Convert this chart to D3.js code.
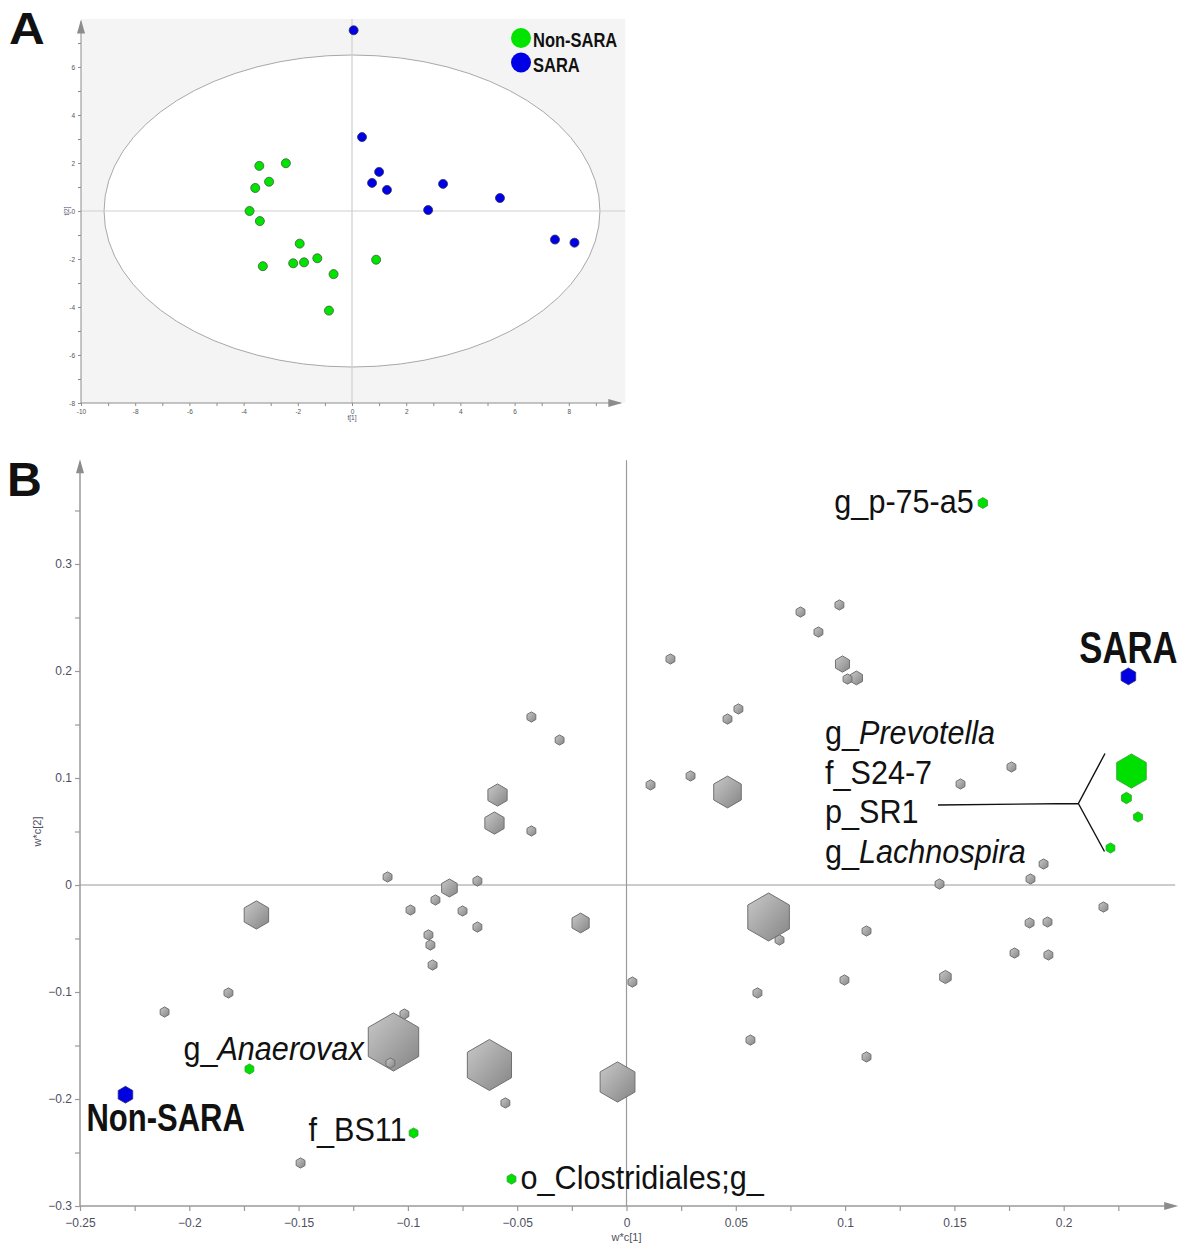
<!DOCTYPE html>
<html>
<head>
<meta charset="utf-8">
<script src="https://cdn.jsdelivr.net/npm/d3@7"></script>
<style>
  body { margin: 0; background: #fff; }
  svg { display: block; }
  text { font-family: Arial, "Liberation Sans", sans-serif; }
</style>
</head>
<body>
<svg id="chart" width="1180" height="1246"></svg>
<script>
// ---------- Panel A: PLS-DA score plot (t[1] vs t[2]) ----------
const scoresNonSara = [
  [-3.42, 1.88], [-2.44, 1.99], [-3.06, 1.22], [-3.57, 0.96], [-3.78, 0.00],
  [-3.40, -0.42], [-1.93, -1.36], [-3.29, -2.30], [-2.17, -2.18], [-1.77, -2.14],
  [-1.28, -1.97], [-0.68, -2.63], [-0.85, -4.15], [0.89, -2.03]
];
const scoresSara = [
  [0.06, 7.53], [0.37, 3.08], [1.00, 1.63], [0.74, 1.17], [1.29, 0.88],
  [3.36, 1.13], [2.81, 0.04], [5.46, 0.54], [7.49, -1.19], [8.21, -1.32]
];
const hotellingRadii = [9.15, 6.5];          // ellipse semi-axes in t[1], t[2] units
const ticksA_x = d3.range(-10, 9, 2);
const ticksA_y = d3.range(-8, 7, 2);
const legendA = [["Non-SARA", "#00e400"], ["SARA", "#0000e6"]];

// ---------- Panel B: loading plot (w*c[1] vs w*c[2]) ----------
// [w*c1, w*c2, relative symbol weight]
const otherTaxa = [
  [-0.1066, -0.1467, 0.97], [-0.0627, -0.1682, 0.85], [-0.0041, -0.1841, 0.67],
  [0.0650, -0.0299, 0.80], [0.0462, 0.0869, 0.53], [-0.1693, -0.0280, 0.47],
  [-0.0590, 0.0841, 0.37], [-0.0604, 0.0579, 0.37], [-0.0210, -0.0355, 0.33],
  [-0.0810, -0.0028, 0.30], [0.0988, 0.2065, 0.27], [0.1052, 0.1935, 0.23],
  [0.1459, -0.0860, 0.22],
  [0.0974, 0.2617, 0.17], [0.0796, 0.2551, 0.17], [0.0878, 0.2364, 0.17],
  [0.0201, 0.2112, 0.17], [0.0512, 0.1645, 0.17], [0.0462, 0.1551, 0.17],
  [-0.0435, 0.1570, 0.17], [-0.0306, 0.1355, 0.17], [0.0293, 0.1019, 0.17],
  [0.0110, 0.0935, 0.17], [0.1528, 0.0944, 0.17], [0.1761, 0.1103, 0.17],
  [-0.0435, 0.0505, 0.17], [-0.1093, 0.0075, 0.17], [-0.0682, 0.0037, 0.17],
  [-0.0874, -0.0140, 0.17], [-0.0988, -0.0234, 0.17], [-0.0750, -0.0243, 0.17],
  [-0.0682, -0.0393, 0.17], [-0.0906, -0.0467, 0.17], [-0.0897, -0.0561, 0.17],
  [-0.0887, -0.0748, 0.17], [0.1432, 0.0009, 0.17], [0.1848, 0.0056, 0.17],
  [0.1908, 0.0196, 0.17], [0.2182, -0.0206, 0.17], [0.1844, -0.0355, 0.17],
  [0.1926, -0.0346, 0.17], [0.1775, -0.0636, 0.17], [0.1930, -0.0654, 0.17],
  [0.1098, -0.0430, 0.17], [0.0700, -0.0514, 0.17], [0.0599, -0.1009, 0.17],
  [0.0997, -0.0888, 0.17], [0.0027, -0.0907, 0.17], [0.0567, -0.1449, 0.17],
  [0.1098, -0.1607, 0.17], [-0.2113, -0.1187, 0.17], [-0.1821, -0.1009, 0.17],
  [-0.1016, -0.1206, 0.17], [-0.1080, -0.1664, 0.17], [-0.0554, -0.2037, 0.17],
  [-0.1491, -0.2598, 0.17], [0.1011, 0.1925, 0.17]
];
// discriminating taxa: [prefix, italic name, w*c1, w*c2, weight]
const keyTaxa = [
  ["g_p-75-a5", "", 0.1630, 0.3570, 0.18],
  ["g_", "Prevotella", 0.2310, 0.1065, 0.57],
  ["f_S24-7", "", 0.2287, 0.0813, 0.19],
  ["p_SR1", "", 0.2340, 0.0636, 0.17],
  ["g_", "Lachnospira", 0.2214, 0.0346, 0.17],
  ["g_", "Anaerovax", -0.1725, -0.1720, 0.17],
  ["f_BS11", "", -0.0974, -0.2318, 0.17],
  ["o_Clostridiales;g_", "", -0.0526, -0.2748, 0.17]
];
const groupCentres = [
  ["SARA", 0.2296, 0.1950, 0.28],
  ["Non-SARA", -0.2292, -0.1960, 0.28]
];
const ticksB_x = [-0.25, -0.2, -0.15, -0.1, -0.05, 0, 0.05, 0.1, 0.15, 0.2];
const ticksB_y = [-0.3, -0.2, -0.1, 0, 0.1, 0.2, 0.3];

const svg = d3.select("#chart");
const defs = svg.append("defs");
const grad = defs.append("linearGradient").attr("id", "greyHex")
  .attr("x1", 0).attr("y1", 0).attr("x2", 1).attr("y2", 1);
grad.append("stop").attr("offset", "0%").attr("stop-color", "#c9c9c9");
grad.append("stop").attr("offset", "100%").attr("stop-color", "#858585");

function arrowHead(g, x, y, dir) {
  // small filled triangular arrow tip at (x, y) pointing "up" or "right"
  const p = dir === "up"
    ? [[x, y], [x - 4, y + 14], [x + 4, y + 14]]
    : [[x, y], [x - 14, y - 4], [x - 14, y + 4]];
  g.append("path").attr("d", "M" + p.join("L") + "Z").attr("fill", "#8c8c8c");
}

// bold, vertically stretched caption text anchored on its baseline
function tallText(g, x, y, str, size, anchor, sx, sy) {
  return g.append("text")
    .attr("transform", `translate(${x},${y}) scale(${sx},${sy})`)
    .attr("text-anchor", anchor).style("font-size", size + "px")
    .style("font-weight", "bold").attr("fill", "#111").text(str);
}

// ================= Panel A =================
const xA = d3.scaleLinear().domain([-10, 10]).range([81, 623]);
const yA = d3.scaleLinear().domain([-8, 8]).range([403, 19]);
const gA = svg.append("g");

gA.append("rect").attr("x", xA(-10)).attr("y", yA(8))
  .attr("width", xA(10.08) - xA(-10)).attr("height", yA(-8) - yA(8))
  .attr("fill", "#f4f4f4");
gA.append("ellipse").attr("cx", xA(0)).attr("cy", yA(0))
  .attr("rx", xA(hotellingRadii[0]) - xA(0)).attr("ry", yA(0) - yA(hotellingRadii[1]))
  .attr("fill", "#fff").attr("stroke", "#a8a8a8").attr("stroke-width", 1);
// cross-hair through origin
gA.append("line").attr("x1", xA(-10)).attr("x2", xA(10.08)).attr("y1", yA(0)).attr("y2", yA(0))
  .attr("stroke", "#cfcfcf").attr("stroke-width", 1.2);
gA.append("line").attr("x1", xA(0)).attr("x2", xA(0)).attr("y1", yA(8)).attr("y2", yA(-8))
  .attr("stroke", "#cfcfcf").attr("stroke-width", 1.2);

// axes
const axA_x = gA.append("g").attr("transform", `translate(0,${yA(-8)})`)
  .call(d3.axisBottom(xA).tickValues(d3.range(-10, 10, 1)).tickSize(3)
    .tickFormat(d => ticksA_x.includes(d) ? d : ""));
const axA_y = gA.append("g").attr("transform", `translate(${xA(-10)},0)`)
  .call(d3.axisLeft(yA).tickValues(d3.range(-8, 8, 1)).tickSize(3)
    .tickFormat(d => ticksA_y.includes(d) ? d : ""));
[axA_x, axA_y].forEach(a => {
  a.select(".domain").attr("stroke", "#8c8c8c");
  a.selectAll(".tick line").attr("stroke", "#8c8c8c");
  a.selectAll(".tick text").attr("fill", "#555").style("font-size", "6.5px");
});
axA_x.select(".domain").attr("d", `M${xA(-10)},0H${xA(9.9)}`);
axA_y.select(".domain").attr("d", `M0,${yA(-8)}V${yA(7.9)}`);
arrowHead(gA, xA(9.9) + 2, yA(-8), "right");
arrowHead(gA, xA(-10), yA(7.9) - 2, "up");
gA.append("text").attr("x", xA(0)).attr("y", 420).attr("text-anchor", "middle")
  .style("font-size", "6.5px").attr("fill", "#4a4a6a").text("t[1]");
gA.append("text").attr("transform", `translate(69,${yA(0)}) rotate(-90)`)
  .attr("text-anchor", "middle").style("font-size", "6.5px").attr("fill", "#4a4a6a").text("t[2]");

// score points
gA.selectAll("circle.ns").data(scoresNonSara).join("circle")
  .attr("cx", d => xA(d[0])).attr("cy", d => yA(d[1])).attr("r", 4.5)
  .attr("fill", legendA[0][1]).attr("stroke", "#3c5a3c").attr("stroke-width", 0.8);
gA.selectAll("circle.s").data(scoresSara).join("circle")
  .attr("cx", d => xA(d[0])).attr("cy", d => yA(d[1])).attr("r", 4.5)
  .attr("fill", legendA[1][1]).attr("stroke", "#30305a").attr("stroke-width", 0.8);

// legend
const legA = gA.selectAll("g.leg").data(legendA).join("g")
  .attr("transform", (d, i) => `translate(521,${38 + i * 24.5})`);
legA.append("circle").attr("r", 10).attr("fill", d => d[1]);
legA.each(function (d) {
  tallText(d3.select(this), 12, 9, d[0], 16.5, "start", 1, 1.28);
});

tallText(svg, 9, 44, "A", 45, "start", 1.1, 1);

// ================= Panel B =================
const xB = d3.scaleLinear().domain([-0.25, 0.25]).range([80, 1173]);
const yB = d3.scaleLinear().domain([-0.3, 0.4]).range([1206, 457]);
const rB = d3.scaleLinear().domain([0, 1]).range([0, 30]);
const gB = svg.append("g");

function hexPath(r) {
  const pts = d3.range(6).map(i => {
    const a = (Math.PI / 3) * i - Math.PI / 2;
    return [r * Math.cos(a), r * Math.sin(a)];
  });
  return "M" + pts.join("L") + "Z";
}

// cross-hair through origin
gB.append("line").attr("x1", xB(-0.25)).attr("x2", xB(0.251)).attr("y1", yB(0)).attr("y2", yB(0))
  .attr("stroke", "#9a9a9a").attr("stroke-width", 1.2);
gB.append("line").attr("x1", xB(0)).attr("x2", xB(0)).attr("y1", yB(0.397)).attr("y2", yB(-0.3))
  .attr("stroke", "#9a9a9a").attr("stroke-width", 1.2);

const axB_x = gB.append("g").attr("transform", `translate(0,${yB(-0.3)})`)
  .call(d3.axisBottom(xB).tickValues(d3.range(-10, 10).map(i => i * 0.025)).tickSize(5)
    .tickFormat(d => ticksB_x.some(t => Math.abs(t - d) < 1e-9) ? d3.format("")(+d.toFixed(3)) : ""));
const axB_y = gB.append("g").attr("transform", `translate(${xB(-0.25)},0)`)
  .call(d3.axisLeft(yB).tickValues(d3.range(-6, 8).map(i => i * 0.05)).tickSize(5)
    .tickFormat(d => ticksB_y.some(t => Math.abs(t - d) < 1e-9) ? d3.format("")(+d.toFixed(3)) : ""));
[axB_x, axB_y].forEach(a => {
  a.select(".domain").attr("stroke", "#9a9a9a").attr("stroke-width", 1.5);
  a.selectAll(".tick line").attr("stroke", "#9a9a9a").attr("stroke-width", 1.2);
  a.selectAll(".tick text").attr("fill", "#4f4f5f").style("font-size", "12px");
});
axB_x.selectAll(".tick text").attr("dy", "1.05em");
axB_x.select(".domain").attr("d", `M${xB(-0.25)},0H${xB(0.251)}`);
axB_y.select(".domain").attr("d", `M0,${yB(-0.3)}V${yB(0.395)}`);
arrowHead(gB, xB(0.251) + 3, yB(-0.3), "right");
arrowHead(gB, xB(-0.25), yB(0.395) - 3, "up");
gB.append("text").attr("x", xB(0)).attr("y", 1241).attr("text-anchor", "middle")
  .style("font-size", "11px").attr("fill", "#4f4f5f").text("w*c[1]");
gB.append("text").attr("transform", `translate(41,${yB(0.05)}) rotate(-90)`)
  .attr("text-anchor", "middle").style("font-size", "11px").attr("fill", "#4f4f5f").text("w*c[2]");

// grey taxa, larger symbols first so small ones stay on top
gB.selectAll("path.grey").data(otherTaxa.slice().sort((a, b) => b[2] - a[2])).join("path")
  .attr("d", d => hexPath(rB(d[2])))
  .attr("transform", d => `translate(${xB(d[0])},${yB(d[1])})`)
  .attr("fill", "url(#greyHex)").attr("stroke", "#707070").attr("stroke-width", 1);

// discriminating taxa
gB.selectAll("path.key").data(keyTaxa).join("path")
  .attr("d", d => hexPath(rB(d[4])))
  .attr("transform", d => `translate(${xB(d[2])},${yB(d[3])})`)
  .attr("fill", "#00e000").attr("stroke", "#33a033").attr("stroke-width", 0.8);

// group centres
gB.selectAll("path.grp").data(groupCentres).join("path")
  .attr("d", d => hexPath(rB(d[3])))
  .attr("transform", d => `translate(${xB(d[1])},${yB(d[2])})`)
  .attr("fill", "#0000e0").attr("stroke", "#2a2a80").attr("stroke-width", 0.8);

// taxon labels: offsets from the symbol they name
const labelLayout = {
  "p-75-a5": { dx: -9, dy: 10, anchor: "end" },
  "Anaerovax": { dx: -66, dy: -9, anchor: "start" },
  "BS11": { dx: -7, dy: 8, anchor: "end" },
  "Clostridiales": { dx: 9, dy: 10, anchor: "start" }
};
function addLabel(x, y, prefix, italic, anchor) {
  const t = gB.append("text")
    .attr("transform", `translate(${x},${y}) scale(1.02,1.08)`)
    .attr("text-anchor", anchor).style("font-size", "30px").attr("fill", "#111");
  t.append("tspan").text(prefix);
  if (italic) t.append("tspan").style("font-style", "italic").text(italic);
}
keyTaxa.forEach(d => {
  const key = Object.keys(labelLayout).find(k => (d[0] + d[1]).includes(k));
  if (!key) return;
  const L = labelLayout[key];
  addLabel(xB(d[2]) + L.dx, yB(d[3]) + L.dy, d[0], d[1], L.anchor);
});
// stacked labels for the four taxa beside the SARA centre, joined by a leader
const stacked = keyTaxa.slice(1, 5);
stacked.forEach((d, i) => addLabel(825, 744 + i * 39.7, d[0], d[1], "start"));
const hub = [xB(0.2067), 803.5];
gB.append("path")
  .attr("d", `M938,805L${hub[0]},${hub[1]}L1105,753.5M${hub[0]},${hub[1]}L1104.5,851.5`)
  .attr("fill", "none").attr("stroke", "#111").attr("stroke-width", 1.4);

// group centre labels
tallText(gB, xB(groupCentres[0][1]), yB(groupCentres[0][2]) - 13, groupCentres[0][0], 35, "middle", 0.99, 1.25);
tallText(gB, xB(groupCentres[1][1]) - 39, yB(groupCentres[1][2]) + 36, groupCentres[1][0], 31, "start", 1.0, 1.28);

tallText(svg, 7, 496, "B", 46, "start", 1.05, 1.03);
</script>
</body>
</html>
